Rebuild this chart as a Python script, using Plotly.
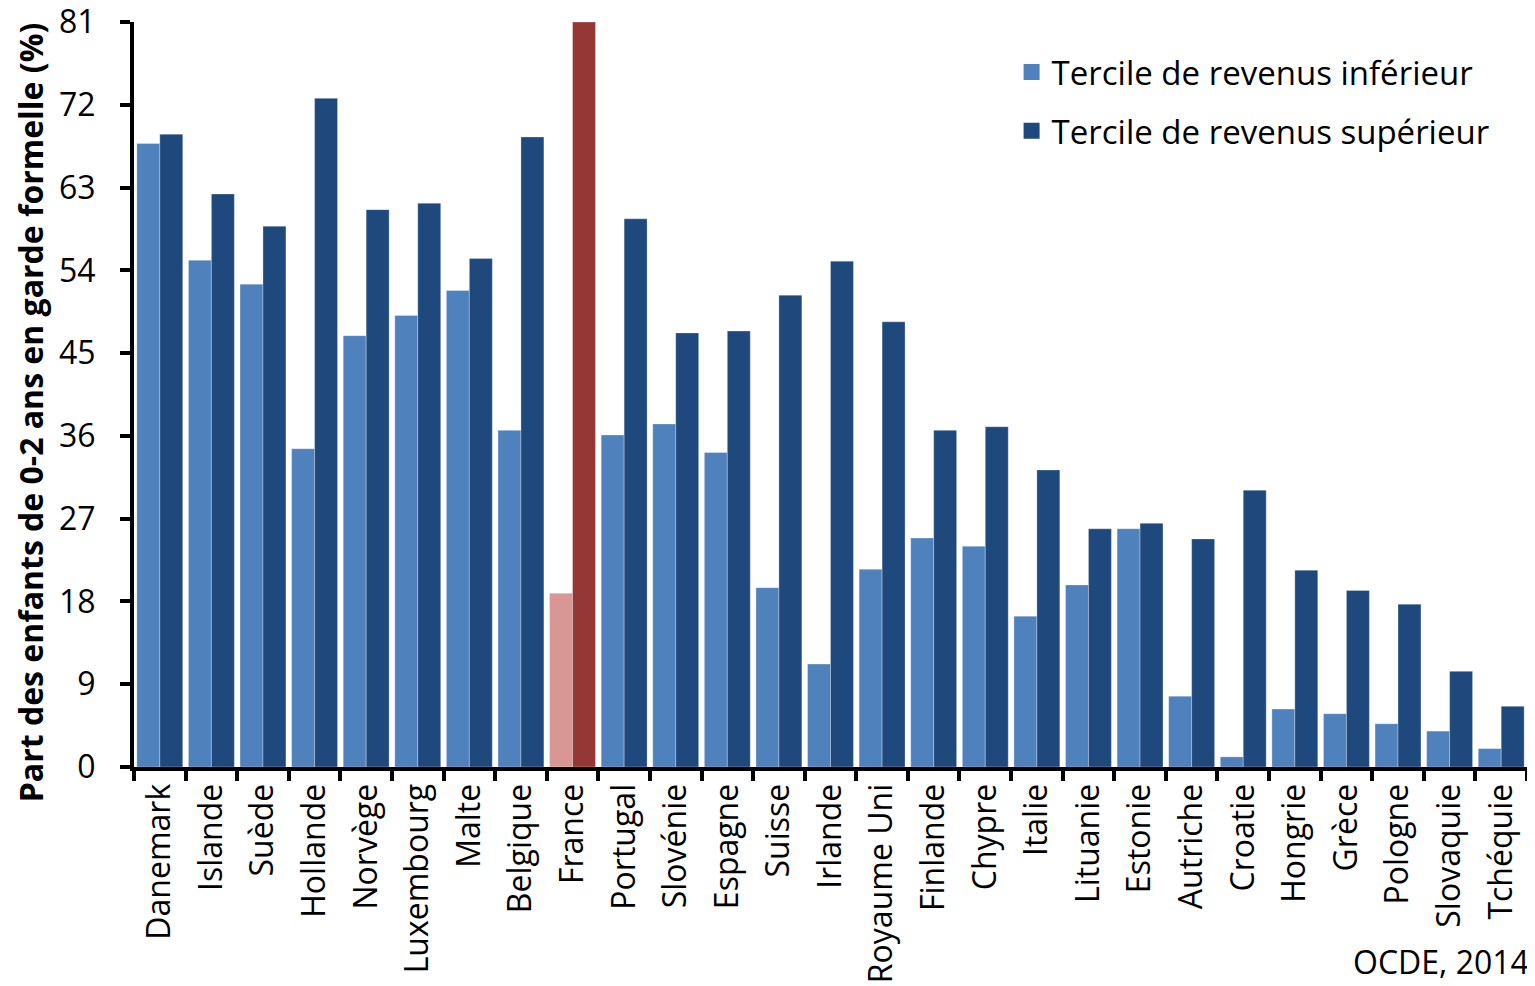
import plotly.graph_objects as go

countries = ["Danemark", "Islande", "Suède", "Hollande", "Norvège", "Luxembourg", "Malte",
             "Belgique", "France", "Portugal", "Slovénie", "Espagne", "Suisse", "Irlande",
             "Royaume Uni", "Finlande", "Chypre", "Italie", "Lituanie", "Estonie", "Autriche",
             "Croatie", "Hongrie", "Grèce", "Pologne", "Slovaquie", "Tchéquie"]
lower = [67.8, 55.1, 52.5, 34.6, 46.9, 49.1, 51.8, 36.6, 18.9, 36.1, 37.3, 34.2, 19.5, 11.2,
         21.5, 24.9, 24.0, 16.4, 19.8, 25.9, 7.7, 1.1, 6.3, 5.8, 4.7, 3.9, 2.0]
upper = [68.8, 62.3, 58.8, 72.7, 60.6, 61.3, 55.3, 68.5, 81.0, 59.6, 47.2, 47.4, 51.3, 55.0,
         48.4, 36.6, 37.0, 32.3, 25.9, 26.5, 24.8, 30.1, 21.4, 19.2, 17.7, 10.4, 6.6]
yticks = [0, 9, 18, 27, 36, 45, 54, 63, 72, 81]
series_names = ["Tercile de revenus inférieur", "Tercile de revenus supérieur"]

LOW = "#4F81BD"
UP = "#1F497D"
LOW_FR = "#D99694"
UP_FR = "#953735"

low_colors = [LOW_FR if c == "France" else LOW for c in countries]
up_colors = [UP_FR if c == "France" else UP for c in countries]

font = "Open Sans"
edge = dict(width=0.6, color="rgba(255,255,255,0.5)")

fig = go.Figure()
fig.add_trace(go.Bar(x=countries, y=lower, name=series_names[0], showlegend=False,
                     marker=dict(color=low_colors, line=edge)))
fig.add_trace(go.Bar(x=countries, y=upper, name=series_names[1], showlegend=False,
                     marker=dict(color=up_colors, line=edge)))
# legend entries with larger square swatches
for nm, col, grp in [(series_names[0], LOW, "a"), (series_names[1], UP, "b")]:
    fig.add_trace(go.Scatter(x=[None], y=[None], mode="markers", name=nm, legendgroup=grp,
                             marker=dict(symbol="square", size=21, color=col)))

fig.update_layout(
    width=1527, height=978,
    barmode="group", bargap=0.11, bargroupgap=0,
    plot_bgcolor="white", paper_bgcolor="white",
    margin=dict(l=126, r=8, t=14, b=219, autoexpand=False),
    font=dict(family=font, color="black"),
    legend=dict(x=0.630, y=0.9705, xanchor="left", yanchor="top",
                font=dict(size=33, family=font), bgcolor="rgba(0,0,0,0)",
                tracegroupgap=13, itemwidth=30, traceorder="grouped"),
    showlegend=True,
)
fig.update_xaxes(
    type="category", tickangle=-90, tickfont=dict(size=32, family=font),
    showline=True, linecolor="black", linewidth=4, automargin=False,
    ticks="outside", tickson="boundaries", ticklen=10, tickwidth=4, tickcolor="black",
    showgrid=False, ticklabeloverflow="allow",
)
fig.update_yaxes(
    range=[0, 81], tickvals=yticks, ticktext=[str(v) for v in yticks],
    tickfont=dict(size=32, family=font), ticklabelstandoff=18, ticklabeloverflow="allow",
    showline=True, linecolor="black", linewidth=4, automargin=False,
    ticks="outside", ticklen=10, tickwidth=4, tickcolor="black",
    showgrid=False, zeroline=False,
)
fig.add_annotation(text="<b>Part des enfants de 0-2 ans en garde formelle (%)</b>",
                   xref="paper", yref="paper", x=-0.0745, y=0.4765, textangle=-90,
                   xanchor="center", yanchor="middle", showarrow=False,
                   font=dict(size=32, family=font, color="black"))
fig.add_annotation(text="OCDE, 2014", xref="paper", yref="paper", x=1.003, y=-0.292,
                   xanchor="right", yanchor="bottom", showarrow=False,
                   font=dict(size=32, family=font, color="black"))

fig.write_html("out.html")
